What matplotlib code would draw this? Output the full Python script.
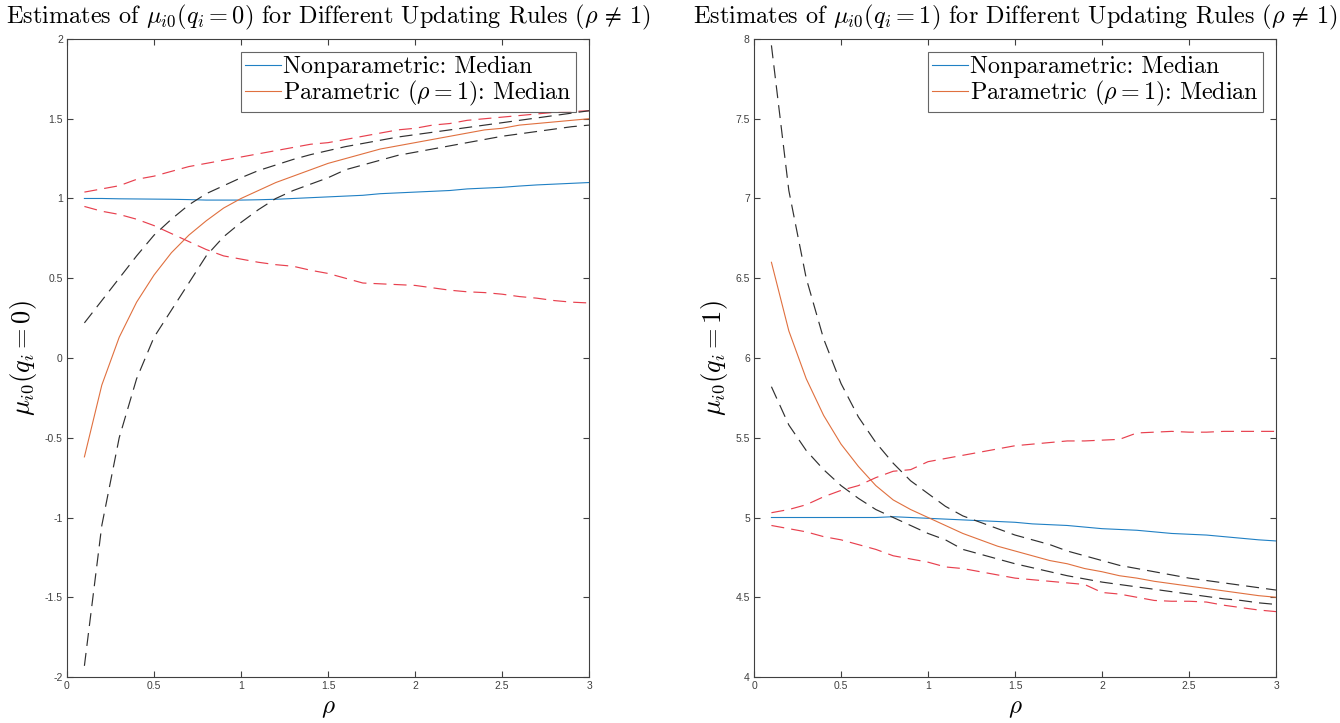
import matplotlib
matplotlib.use('Agg')
import matplotlib.pyplot as plt
from matplotlib.ticker import FuncFormatter

plt.rcParams['mathtext.fontset'] = 'cm'
plt.rcParams['font.family'] = ['cmr10', 'DejaVu Serif']
plt.rcParams['axes.formatter.use_mathtext'] = True

# rho grid
rho = [0.1, 0.2, 0.3, 0.4, 0.5, 0.6, 0.7, 0.8, 0.9, 1.0,
       1.1, 1.2, 1.3, 1.4, 1.5, 1.6, 1.7, 1.8, 1.9, 2.0,
       2.1, 2.2, 2.3, 2.4, 2.5, 2.6, 2.7, 2.8, 2.9, 3.0]

# ---- q_i = 0 ----
np_med0 = [1.0, 1.0, 0.998, 0.997, 0.996, 0.995, 0.993, 0.99, 0.99, 0.99,
           0.992, 0.995, 1.0, 1.005, 1.01, 1.015, 1.02, 1.03, 1.035, 1.04,
           1.045, 1.05, 1.06, 1.065, 1.07, 1.078, 1.085, 1.09, 1.095, 1.10]
np_hi0 = [1.04, 1.06, 1.08, 1.12, 1.14, 1.17, 1.20, 1.22, 1.24, 1.26,
          1.28, 1.30, 1.32, 1.34, 1.35, 1.37, 1.39, 1.41, 1.43, 1.44,
          1.46, 1.47, 1.49, 1.50, 1.51, 1.52, 1.53, 1.54, 1.545, 1.55]
np_lo0 = [0.95, 0.92, 0.90, 0.87, 0.83, 0.78, 0.73, 0.68, 0.64, 0.62,
          0.60, 0.585, 0.575, 0.55, 0.53, 0.50, 0.47, 0.465, 0.46, 0.455,
          0.44, 0.425, 0.415, 0.41, 0.40, 0.385, 0.375, 0.36, 0.35, 0.345]
p_med0 = [-0.62, -0.17, 0.13, 0.35, 0.52, 0.66, 0.77, 0.86, 0.94, 1.00,
          1.05, 1.10, 1.14, 1.18, 1.22, 1.25, 1.28, 1.31, 1.33, 1.35,
          1.37, 1.39, 1.41, 1.43, 1.44, 1.46, 1.47, 1.48, 1.49, 1.50]
p_hi0 = [0.22, 0.36, 0.50, 0.64, 0.77, 0.87, 0.96, 1.03, 1.08, 1.13,
         1.175, 1.21, 1.245, 1.275, 1.30, 1.325, 1.345, 1.365, 1.385, 1.40,
         1.415, 1.43, 1.445, 1.46, 1.475, 1.49, 1.505, 1.52, 1.535, 1.55]
p_lo0 = [-1.93, -1.05, -0.50, -0.13, 0.13, 0.30, 0.47, 0.64, 0.76, 0.85,
         0.93, 1.0, 1.05, 1.09, 1.13, 1.18, 1.21, 1.24, 1.27, 1.29,
         1.31, 1.33, 1.35, 1.37, 1.39, 1.405, 1.42, 1.435, 1.45, 1.46]

# ---- q_i = 1 ----
np_med1 = [5.0, 5.0, 5.0, 5.0, 5.0, 5.0, 5.0, 5.005, 5.0, 4.995,
           4.99, 4.985, 4.98, 4.975, 4.97, 4.96, 4.955, 4.95, 4.94, 4.93,
           4.925, 4.92, 4.91, 4.90, 4.895, 4.89, 4.88, 4.87, 4.86, 4.853]
np_hi1 = [5.03, 5.05, 5.08, 5.13, 5.17, 5.20, 5.25, 5.29, 5.30, 5.35,
          5.37, 5.39, 5.41, 5.43, 5.45, 5.46, 5.47, 5.48, 5.48, 5.485,
          5.49, 5.53, 5.535, 5.54, 5.535, 5.535, 5.54, 5.54, 5.54, 5.54]
np_lo1 = [4.95, 4.93, 4.91, 4.88, 4.86, 4.83, 4.80, 4.76, 4.74, 4.72,
          4.69, 4.68, 4.66, 4.64, 4.62, 4.61, 4.60, 4.59, 4.58, 4.53,
          4.52, 4.50, 4.48, 4.475, 4.475, 4.47, 4.45, 4.435, 4.42, 4.41]
p_med1 = [6.6, 6.17, 5.87, 5.64, 5.46, 5.32, 5.20, 5.11, 5.05, 5.0,
          4.95, 4.90, 4.86, 4.82, 4.79, 4.76, 4.73, 4.71, 4.68, 4.66,
          4.635, 4.62, 4.60, 4.585, 4.57, 4.555, 4.54, 4.525, 4.51, 4.50]
p_hi1 = [7.96, 7.05, 6.5, 6.12, 5.84, 5.63, 5.47, 5.34, 5.23, 5.15,
         5.07, 5.01, 4.97, 4.93, 4.89, 4.86, 4.83, 4.79, 4.76, 4.73,
         4.70, 4.68, 4.66, 4.64, 4.62, 4.605, 4.59, 4.575, 4.56, 4.545]
p_lo1 = [5.82, 5.58, 5.42, 5.30, 5.20, 5.12, 5.05, 5.0, 4.95, 4.90,
         4.86, 4.80, 4.77, 4.74, 4.71, 4.685, 4.66, 4.635, 4.615, 4.595,
         4.58, 4.565, 4.55, 4.535, 4.52, 4.505, 4.49, 4.48, 4.465, 4.455]

x_ticks = [0, 0.5, 1, 1.5, 2, 2.5, 3]
y_ticks0 = [-2, -1.5, -1, -0.5, 0, 0.5, 1, 1.5, 2]
y_ticks1 = [4, 4.5, 5, 5.5, 6, 6.5, 7, 7.5, 8]

BLUE = '#2080C4'
ORANGE = '#E0703F'
RED = '#E8404E'
BLACK = '#303030'
DARK = '#404040'

fig = plt.figure(figsize=(13.4, 7.23), dpi=100)
ax0 = fig.add_axes([0.050, 0.0636, 0.3896, 0.8825])
ax1 = fig.add_axes([0.5627, 0.0636, 0.3896, 0.8825])


def fmt(v, pos):
    return '%g' % v


panels = [
    (ax0, np_med0, np_hi0, np_lo0, p_med0, p_hi0, p_lo0, y_ticks0, (-2, 2),
     r'Estimates of $\mu_{i0}(q_i=0)$ for Different Updating Rules ($\rho\,\neq\,1$)',
     r'$\mu_{i0}(q_i=0)$'),
    (ax1, np_med1, np_hi1, np_lo1, p_med1, p_hi1, p_lo1, y_ticks1, (4, 8),
     r'Estimates of $\mu_{i0}(q_i=1)$ for Different Updating Rules ($\rho\,\neq\,1$)',
     r'$\mu_{i0}(q_i=1)$'),
]

dash = (0, (11, 6))
for ax, nm, nh, nl, pm, ph, pl, yt, ylim, title, ylab in panels:
    ax.plot(rho, nm, color=BLUE, lw=0.8, label='Nonparametric: Median')
    ax.plot(rho, pm, color=ORANGE, lw=0.8, label=r'Parametric ($\rho=1$): Median')
    ax.plot(rho, nh, color=RED, lw=0.85, linestyle=dash)
    ax.plot(rho, nl, color=RED, lw=0.85, linestyle=dash)
    ax.plot(rho, ph, color=BLACK, lw=0.85, linestyle=dash)
    ax.plot(rho, pl, color=BLACK, lw=0.85, linestyle=dash)

    ax.set_xlim(0, 3)
    ax.set_ylim(*ylim)
    ax.set_xticks(x_ticks)
    ax.set_yticks(yt)
    ax.xaxis.set_major_formatter(FuncFormatter(fmt))
    ax.yaxis.set_major_formatter(FuncFormatter(fmt))
    ax.tick_params(direction='in', length=4, width=0.8, colors=DARK,
                   top=True, right=True, labelsize=7.5, pad=3)
    for lab in ax.get_xticklabels() + ax.get_yticklabels():
        lab.set_fontfamily(['Liberation Sans', 'DejaVu Sans'])
    for sp in ax.spines.values():
        sp.set_color(DARK)
        sp.set_linewidth(0.8)

    ax.set_title(title, fontsize=17.5, pad=11)
    ax.set_xlabel(r'$\rho$', fontsize=18, labelpad=5)
    ax.set_ylabel(ylab, fontsize=19, labelpad=4)

    leg = ax.legend(loc='upper right', fontsize=17.3, frameon=True, fancybox=False,
                    handlelength=1.5, handletextpad=0.1, borderpad=0.15,
                    labelspacing=0.05, borderaxespad=0.55, edgecolor=DARK)
    leg.get_frame().set_linewidth(0.8)

fig.savefig('out.png', dpi=100, facecolor='white')
